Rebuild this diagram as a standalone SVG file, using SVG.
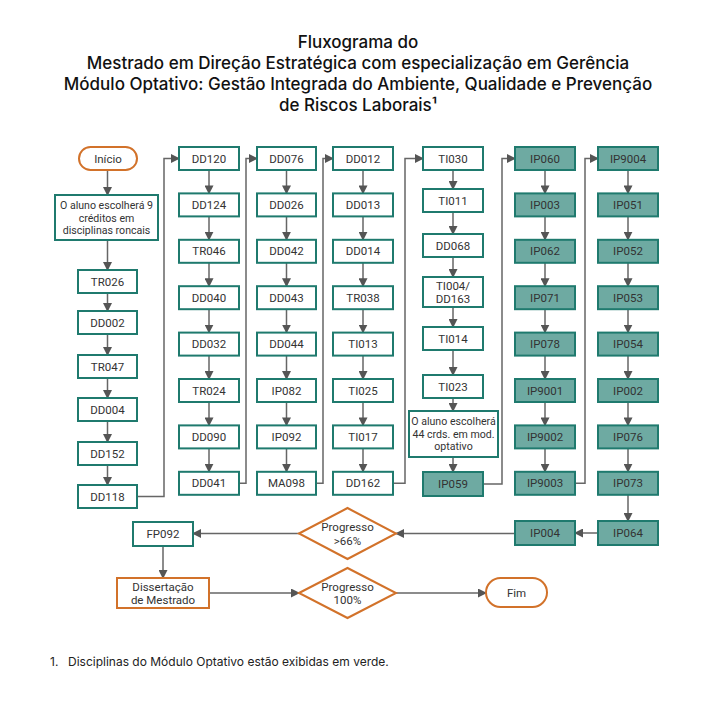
<svg xmlns="http://www.w3.org/2000/svg" width="716" height="701" viewBox="0 0 716 701">
<style>
.bg{fill:#ffffff}
.t{font-family:Inter,"Noto Sans",sans-serif;font-weight:500;font-size:17px;fill:#111;text-anchor:middle}
.fn{font-family:Inter,"Noto Sans",sans-serif;font-size:12px;fill:#222}
.b{fill:#ffffff;stroke:#1f7a6e;stroke-width:2}
.g{fill:#6eaaa2;stroke:#1f7a6e;stroke-width:2}
.o{fill:#ffffff;stroke:#d2722a;stroke-width:2}
.l{font-family:Roboto,"Liberation Sans",sans-serif;font-size:11.5px;fill:#333;text-anchor:middle;dominant-baseline:central}
.s{font-family:Roboto,"Liberation Sans",sans-serif;font-size:10.6px;fill:#333;text-anchor:middle;dominant-baseline:central}
.c{fill:none;stroke:#666;stroke-width:1.5}
</style>
<defs>
<marker id="ah" markerUnits="userSpaceOnUse" markerWidth="9" markerHeight="9" refX="8" refY="4.5" orient="auto">
<path d="M0,0 L9,4.5 L0,9 Z" fill="#555"/>
</marker>
</defs>
<rect class="bg" x="0" y="0" width="716" height="701"/>
<g id="title">
<text class="t" x="358" y="48">Fluxograma do</text>
<text class="t" x="358" y="69">Mestrado em Direção Estratégica com especialização em Gerência</text>
<text class="t" x="358" y="90">Módulo Optativo: Gestão Integrada do Ambiente, Qualidade e Prevenção</text>
<text class="t" x="358" y="111">de Riscos Laborais¹</text>
</g>

<g id="connectors">
<!-- col0 -->
<path class="c" marker-end="url(#ah)" d="M107.5,170 V195"/>
<path class="c" marker-end="url(#ah)" d="M107.5,240 V270"/>
<path class="c" marker-end="url(#ah)" d="M107.5,293 V311"/>
<path class="c" marker-end="url(#ah)" d="M107.5,334 V355"/>
<path class="c" marker-end="url(#ah)" d="M107.5,378 V398"/>
<path class="c" marker-end="url(#ah)" d="M107.5,421 V442"/>
<path class="c" marker-end="url(#ah)" d="M107.5,465 V485"/>
<path class="c" marker-end="url(#ah)" d="M137,496.5 H164 V158.5 H179"/>
<!-- col1 -->
<path class="c" marker-end="url(#ah)" d="M209,170 V193.4"/>
<path class="c" marker-end="url(#ah)" d="M209,216.4 V239.8"/>
<path class="c" marker-end="url(#ah)" d="M209,262.8 V286.2"/>
<path class="c" marker-end="url(#ah)" d="M209,309.2 V332.6"/>
<path class="c" marker-end="url(#ah)" d="M209,355.6 V379"/>
<path class="c" marker-end="url(#ah)" d="M209,402 V425.4"/>
<path class="c" marker-end="url(#ah)" d="M209,448.4 V471.8"/>
<path class="c" marker-end="url(#ah)" d="M239,483.3 H246 V158.5 H257"/>
<!-- col2 -->
<path class="c" marker-end="url(#ah)" d="M286.5,170 V193.4"/>
<path class="c" marker-end="url(#ah)" d="M286.5,216.4 V239.8"/>
<path class="c" marker-end="url(#ah)" d="M286.5,262.8 V286.2"/>
<path class="c" marker-end="url(#ah)" d="M286.5,309.2 V332.6"/>
<path class="c" marker-end="url(#ah)" d="M286.5,355.6 V379"/>
<path class="c" marker-end="url(#ah)" d="M286.5,402 V425.4"/>
<path class="c" marker-end="url(#ah)" d="M286.5,448.4 V471.8"/>
<path class="c" marker-end="url(#ah)" d="M316,483.3 H323 V158.5 H333"/>
<!-- col3 -->
<path class="c" marker-end="url(#ah)" d="M363,170 V193.4"/>
<path class="c" marker-end="url(#ah)" d="M363,216.4 V239.8"/>
<path class="c" marker-end="url(#ah)" d="M363,262.8 V286.2"/>
<path class="c" marker-end="url(#ah)" d="M363,309.2 V332.6"/>
<path class="c" marker-end="url(#ah)" d="M363,355.6 V379"/>
<path class="c" marker-end="url(#ah)" d="M363,402 V425.4"/>
<path class="c" marker-end="url(#ah)" d="M363,448.4 V471.8"/>
<path class="c" marker-end="url(#ah)" d="M393,483.3 H405 V158.5 H423"/>
<!-- col4 -->
<path class="c" marker-end="url(#ah)" d="M453,170 V189"/>
<path class="c" marker-end="url(#ah)" d="M453,212 V234"/>
<path class="c" marker-end="url(#ah)" d="M453,257 V277"/>
<path class="c" marker-end="url(#ah)" d="M453,307 V327"/>
<path class="c" marker-end="url(#ah)" d="M453,350 V375"/>
<path class="c" marker-end="url(#ah)" d="M453,398 V411"/>
<path class="c" marker-end="url(#ah)" d="M453,457 V472"/>
<path class="c" marker-end="url(#ah)" d="M483,484 H502 V158.5 H515"/>
<!-- col5 -->
<path class="c" marker-end="url(#ah)" d="M545,170 V193.4"/>
<path class="c" marker-end="url(#ah)" d="M545,216.4 V239.8"/>
<path class="c" marker-end="url(#ah)" d="M545,262.8 V286.2"/>
<path class="c" marker-end="url(#ah)" d="M545,309.2 V332.6"/>
<path class="c" marker-end="url(#ah)" d="M545,355.6 V379"/>
<path class="c" marker-end="url(#ah)" d="M545,402 V425.4"/>
<path class="c" marker-end="url(#ah)" d="M545,448.4 V471.8"/>
<path class="c" marker-end="url(#ah)" d="M575,483.3 H585 V158.5 H598"/>
<!-- col6 -->
<path class="c" marker-end="url(#ah)" d="M628,170 V193.4"/>
<path class="c" marker-end="url(#ah)" d="M628,216.4 V239.8"/>
<path class="c" marker-end="url(#ah)" d="M628,262.8 V286.2"/>
<path class="c" marker-end="url(#ah)" d="M628,309.2 V332.6"/>
<path class="c" marker-end="url(#ah)" d="M628,355.6 V379"/>
<path class="c" marker-end="url(#ah)" d="M628,402 V425.4"/>
<path class="c" marker-end="url(#ah)" d="M628,448.4 V471.8"/>
<path class="c" marker-end="url(#ah)" d="M628,494.8 V521"/>
<!-- bottom -->
<path class="c" marker-end="url(#ah)" d="M598,533 H575"/>
<path class="c" marker-end="url(#ah)" d="M515,533.5 H396"/>
<path class="c" marker-end="url(#ah)" d="M299,533.5 H193"/>
<path class="c" marker-end="url(#ah)" d="M163,546 V578"/>
<path class="c" marker-end="url(#ah)" d="M209,593 H299"/>
<path class="c" marker-end="url(#ah)" d="M396,593 H486"/>
</g>

<!-- column 0 -->
<g id="inicio"><rect class="o" x="79" y="147" width="58" height="23" rx="11.5"/><text class="l" x="108" y="158.5">Início</text></g>
<g id="escolha9"><rect class="b" x="55" y="195" width="103" height="45"/>
<text class="s" x="106.5" y="205.5">O aluno escolherá 9</text>
<text class="s" x="106.5" y="218">créditos em</text>
<text class="s" x="106.5" y="230.5">disciplinas roncais</text></g>
<g id="TR026"><rect class="b" x="78" y="270" width="59" height="23"/><text class="l" x="107.5" y="281.5">TR026</text></g>
<g id="DD002"><rect class="b" x="78" y="311" width="59" height="23"/><text class="l" x="107.5" y="322.5">DD002</text></g>
<g id="TR047"><rect class="b" x="78" y="355" width="59" height="23"/><text class="l" x="107.5" y="366.5">TR047</text></g>
<g id="DD004"><rect class="b" x="78" y="398" width="59" height="23"/><text class="l" x="107.5" y="409.5">DD004</text></g>
<g id="DD152"><rect class="b" x="78" y="442" width="59" height="23"/><text class="l" x="107.5" y="453.5">DD152</text></g>
<g id="DD118"><rect class="b" x="78" y="485" width="59" height="23"/><text class="l" x="107.5" y="496.5">DD118</text></g>

<!-- column 1 -->
<g id="DD120"><rect class="b" x="179" y="147" width="60" height="23"/><text class="l" x="209" y="158.5">DD120</text></g>
<g id="DD124"><rect class="b" x="179" y="193.4" width="60" height="23"/><text class="l" x="209" y="204.9">DD124</text></g>
<g id="TR046"><rect class="b" x="179" y="239.8" width="60" height="23"/><text class="l" x="209" y="251.3">TR046</text></g>
<g id="DD040"><rect class="b" x="179" y="286.2" width="60" height="23"/><text class="l" x="209" y="297.7">DD040</text></g>
<g id="DD032"><rect class="b" x="179" y="332.6" width="60" height="23"/><text class="l" x="209" y="344.1">DD032</text></g>
<g id="TR024"><rect class="b" x="179" y="379" width="60" height="23"/><text class="l" x="209" y="390.5">TR024</text></g>
<g id="DD090"><rect class="b" x="179" y="425.4" width="60" height="23"/><text class="l" x="209" y="436.9">DD090</text></g>
<g id="DD041"><rect class="b" x="179" y="471.8" width="60" height="23"/><text class="l" x="209" y="483.3">DD041</text></g>

<!-- column 2 -->
<g id="DD076"><rect class="b" x="257" y="147" width="59" height="23"/><text class="l" x="286.5" y="158.5">DD076</text></g>
<g id="DD026"><rect class="b" x="257" y="193.4" width="59" height="23"/><text class="l" x="286.5" y="204.9">DD026</text></g>
<g id="DD042"><rect class="b" x="257" y="239.8" width="59" height="23"/><text class="l" x="286.5" y="251.3">DD042</text></g>
<g id="DD043"><rect class="b" x="257" y="286.2" width="59" height="23"/><text class="l" x="286.5" y="297.7">DD043</text></g>
<g id="DD044"><rect class="b" x="257" y="332.6" width="59" height="23"/><text class="l" x="286.5" y="344.1">DD044</text></g>
<g id="IP082"><rect class="b" x="257" y="379" width="59" height="23"/><text class="l" x="286.5" y="390.5">IP082</text></g>
<g id="IP092"><rect class="b" x="257" y="425.4" width="59" height="23"/><text class="l" x="286.5" y="436.9">IP092</text></g>
<g id="MA098"><rect class="b" x="257" y="471.8" width="59" height="23"/><text class="l" x="286.5" y="483.3">MA098</text></g>

<!-- column 3 -->
<g id="DD012"><rect class="b" x="333" y="147" width="60" height="23"/><text class="l" x="363" y="158.5">DD012</text></g>
<g id="DD013"><rect class="b" x="333" y="193.4" width="60" height="23"/><text class="l" x="363" y="204.9">DD013</text></g>
<g id="DD014"><rect class="b" x="333" y="239.8" width="60" height="23"/><text class="l" x="363" y="251.3">DD014</text></g>
<g id="TR038"><rect class="b" x="333" y="286.2" width="60" height="23"/><text class="l" x="363" y="297.7">TR038</text></g>
<g id="TI013"><rect class="b" x="333" y="332.6" width="60" height="23"/><text class="l" x="363" y="344.1">TI013</text></g>
<g id="TI025"><rect class="b" x="333" y="379" width="60" height="23"/><text class="l" x="363" y="390.5">TI025</text></g>
<g id="TI017"><rect class="b" x="333" y="425.4" width="60" height="23"/><text class="l" x="363" y="436.9">TI017</text></g>
<g id="DD162"><rect class="b" x="333" y="471.8" width="60" height="23"/><text class="l" x="363" y="483.3">DD162</text></g>

<!-- column 4 -->
<g id="TI030"><rect class="b" x="423" y="147" width="60" height="23"/><text class="l" x="453" y="158.5">TI030</text></g>
<g id="TI011"><rect class="b" x="423" y="189" width="60" height="23"/><text class="l" x="453" y="200.5">TI011</text></g>
<g id="DD068"><rect class="b" x="423" y="234" width="60" height="23"/><text class="l" x="453" y="245.5">DD068</text></g>
<g id="TI004"><rect class="b" x="423" y="277" width="60" height="30"/><text class="l" x="453" y="285.7">TI004/</text><text class="l" x="453" y="298.7">DD163</text></g>
<g id="TI014"><rect class="b" x="423" y="327" width="60" height="23"/><text class="l" x="453" y="338.5">TI014</text></g>
<g id="TI023"><rect class="b" x="423" y="375" width="60" height="23"/><text class="l" x="453" y="386.5">TI023</text></g>
<g id="escolha44"><rect class="b" x="409" y="411" width="89" height="46"/>
<text class="s" x="453.5" y="421">O aluno escolherá</text>
<text class="s" x="453.5" y="434">44 crds. em mod.</text>
<text class="s" x="453.5" y="446.5">optativo</text></g>
<g id="IP059"><rect class="g" x="423" y="472" width="60" height="24"/><text class="l" x="453" y="484">IP059</text></g>

<!-- column 5 -->
<g id="IP060"><rect class="g" x="515" y="147" width="60" height="23"/><text class="l" x="545" y="158.5">IP060</text></g>
<g id="IP003"><rect class="g" x="515" y="193.4" width="60" height="23"/><text class="l" x="545" y="204.9">IP003</text></g>
<g id="IP062"><rect class="g" x="515" y="239.8" width="60" height="23"/><text class="l" x="545" y="251.3">IP062</text></g>
<g id="IP071"><rect class="g" x="515" y="286.2" width="60" height="23"/><text class="l" x="545" y="297.7">IP071</text></g>
<g id="IP078"><rect class="g" x="515" y="332.6" width="60" height="23"/><text class="l" x="545" y="344.1">IP078</text></g>
<g id="IP9001"><rect class="g" x="515" y="379" width="60" height="23"/><text class="l" x="545" y="390.5">IP9001</text></g>
<g id="IP9002"><rect class="g" x="515" y="425.4" width="60" height="23"/><text class="l" x="545" y="436.9">IP9002</text></g>
<g id="IP9003"><rect class="g" x="515" y="471.8" width="60" height="23"/><text class="l" x="545" y="483.3">IP9003</text></g>

<!-- column 6 -->
<g id="IP9004"><rect class="g" x="598" y="147" width="60" height="23"/><text class="l" x="628" y="158.5">IP9004</text></g>
<g id="IP051"><rect class="g" x="598" y="193.4" width="60" height="23"/><text class="l" x="628" y="204.9">IP051</text></g>
<g id="IP052"><rect class="g" x="598" y="239.8" width="60" height="23"/><text class="l" x="628" y="251.3">IP052</text></g>
<g id="IP053"><rect class="g" x="598" y="286.2" width="60" height="23"/><text class="l" x="628" y="297.7">IP053</text></g>
<g id="IP054"><rect class="g" x="598" y="332.6" width="60" height="23"/><text class="l" x="628" y="344.1">IP054</text></g>
<g id="IP002"><rect class="g" x="598" y="379" width="60" height="23"/><text class="l" x="628" y="390.5">IP002</text></g>
<g id="IP076"><rect class="g" x="598" y="425.4" width="60" height="23"/><text class="l" x="628" y="436.9">IP076</text></g>
<g id="IP073"><rect class="g" x="598" y="471.8" width="60" height="23"/><text class="l" x="628" y="483.3">IP073</text></g>
<g id="IP064"><rect class="g" x="598" y="521" width="60" height="24"/><text class="l" x="628" y="533">IP064</text></g>

<!-- bottom -->
<g id="IP004"><rect class="g" x="515" y="521" width="60" height="24"/><text class="l" x="545" y="533">IP004</text></g>
<g id="prog66"><polygon class="o" points="299,533.5 347.5,508 396,533.5 347.5,559"/><text class="l" x="347.5" y="527">Progresso</text><text class="l" x="347.5" y="540.5">&gt;66%</text></g>
<g id="FP092"><rect class="b" x="133" y="522" width="60" height="24"/><text class="l" x="163" y="534">FP092</text></g>
<g id="dissertacao"><rect class="o" x="117" y="578" width="92" height="30"/><text class="l" x="163" y="586.5">Dissertação</text><text class="l" x="163" y="599.5">de Mestrado</text></g>
<g id="prog100"><polygon class="o" points="299,593 347.5,568 396,593 347.5,618"/><text class="l" x="347.5" y="586.5">Progresso</text><text class="l" x="347.5" y="600">100%</text></g>
<g id="fim"><rect class="o" x="486" y="578" width="61" height="29" rx="14.5"/><text class="l" x="516.5" y="592.5">Fim</text></g>

<g id="footnote">
<text class="fn" x="50" y="666">1.</text>
<text class="fn" x="68" y="666">Disciplinas do Módulo Optativo estão exibidas em verde.</text>
</g>
</svg>
